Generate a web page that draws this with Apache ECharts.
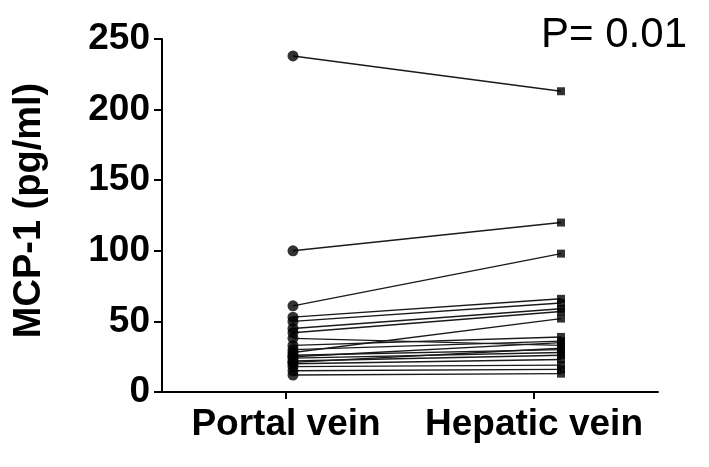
<!DOCTYPE html>
<html>
<head>
<meta charset="utf-8">
<script src="https://cdn.jsdelivr.net/npm/echarts@6/dist/echarts.min.js"></script>
<style>html,body{margin:0;padding:0;background:#fff}#c{width:709px;height:467px}</style>
</head>
<body>
<div id="c"></div>
<script>
const categories = ['Portal vein', 'Hepatic vein'];
const portal  = [238, 100, 61, 53, 50, 45, 42, 38, 33, 30, 28, 26, 24, 22, 20, 18, 15, 12, 25, 21];
const hepatic = [213, 120, 98, 66, 63, 59, 57, 33, 39, 36, 52, 30, 28, 26, 23, 19, 16, 13, 35, 31];
const yTicks = [0, 50, 100, 150, 200, 250];
const pText = 'P= 0.01';
const yName = 'MCP-1 (pg/ml)';

const FONT = '"Liberation Sans", Arial, Helvetica, sans-serif';
const chart = echarts.init(document.getElementById('c'), null, {renderer: 'canvas'});

const series = [];
portal.forEach((p, i) => {
  series.push({
    type: 'line', xAxisIndex: 1, yAxisIndex: 0,
    data: [[0, p], [1, hepatic[i]]],
    symbol: 'none', silent: true,
    lineStyle: {color: '#1a1a1a', width: 1.4}
  });
});
series.push({
  type: 'scatter', xAxisIndex: 1, yAxisIndex: 0,
  data: portal.map(v => [0, v]), symbol: 'circle', symbolSize: 11,
  itemStyle: {color: '#000'}, z: 5
});
series.push({
  type: 'scatter', xAxisIndex: 1, yAxisIndex: 0,
  data: hepatic.map(v => [1, v]), symbol: 'rect', symbolSize: 8,
  itemStyle: {color: '#000'}, z: 5
});

chart.setOption({
  animation: false,
  backgroundColor: '#fff',
  title: {
    text: pText, right: 17, top: 9,
    textStyle: {fontFamily: FONT, fontSize: 42, fontWeight: 'normal', color: '#000'}
  },
  grid: {left: 162, right: 51, top: 39, bottom: 75, containLabel: false},
  xAxis: [
    {
      type: 'category', data: categories, boundaryGap: true,
      axisLine: {show: true, onZero: false, lineStyle: {color: '#000', width: 2}},
      axisTick: {show: true, alignWithLabel: true, length: 7, lineStyle: {color: '#000', width: 2}},
      axisLabel: {interval: 0, color: '#000', fontFamily: FONT, fontWeight: 'bold', fontSize: 37, margin: 14},
      splitLine: {show: false}
    },
    {
      type: 'value', min: -0.4888, max: 1.362, show: false,
      splitLine: {show: false}
    }
  ],
  yAxis: [{
    type: 'value', min: yTicks[0], max: yTicks[yTicks.length - 1], interval: 50,
    name: yName, nameLocation: 'middle', nameGap: 113, nameRotate: 90,
    nameTextStyle: {fontFamily: FONT, fontWeight: 'bold', fontSize: 38, color: '#000', padding: [0, 0, 0, 10]},
    axisLine: {show: true, onZero: false, lineStyle: {color: '#000', width: 2}},
    axisTick: {show: true, length: 8, lineStyle: {color: '#000', width: 2}},
    axisLabel: {color: '#000', fontFamily: FONT, fontWeight: 'bold', fontSize: 37, margin: 12},
    splitLine: {show: false}
  }],
  series: series
});
</script>
</body>
</html>
